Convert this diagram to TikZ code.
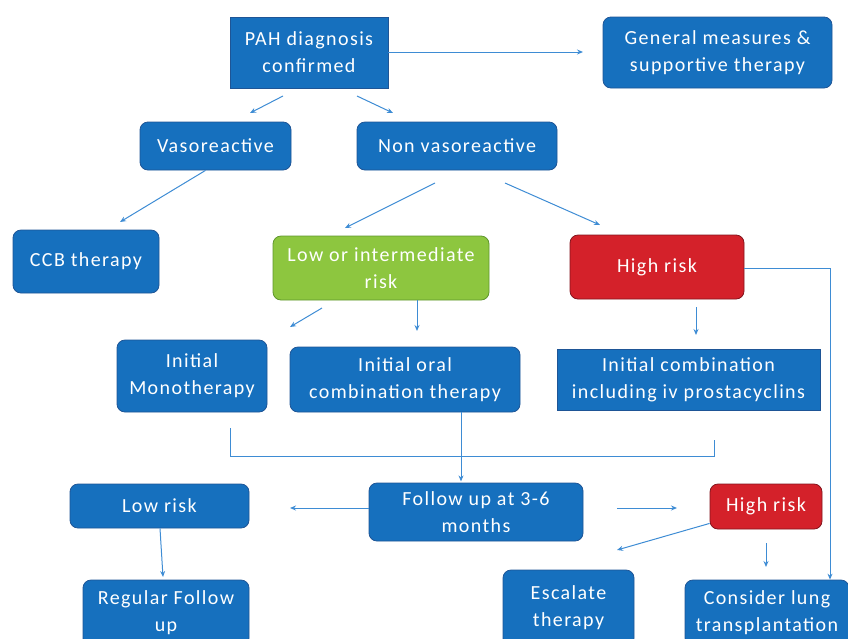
\documentclass[tikz,border=0pt]{standalone}
\usepackage{fontspec}
\setmainfont{Carlito}[LetterSpace=7]
\usepackage{tikz}
\usetikzlibrary{arrows.meta,positioning,calc}
\definecolor{boxblue}{RGB}{22, 112, 190}
\definecolor{edgeblue}{RGB}{30, 85, 150}
\definecolor{lowgreen}{RGB}{141, 198, 63}
\definecolor{edgegreen}{RGB}{95, 150, 45}
\definecolor{highred}{RGB}{212, 33, 42}
\definecolor{edgered}{RGB}{130, 20, 28}
\definecolor{linkblue}{RGB}{62, 140, 212}

\tikzset{
    box/.style={draw=edgeblue, fill=boxblue, text=white, align=center, inner sep=0pt,
        font=\fontsize{20}{27}\selectfont, line width=0.8pt},
    roundbox/.style={box, rounded corners=8pt},
    greenbox/.style={roundbox, fill=lowgreen, draw=edgegreen},
    redbox/.style={roundbox, fill=highred, draw=edgered},
    link/.style={draw=linkblue, line width=1pt, -{Stealth[length=6pt,width=5pt]}},
    plainlink/.style={draw=linkblue, line width=1pt}
}

\begin{document}
\begin{tikzpicture}[x=1pt,y=-1pt]
    \useasboundingbox (0,0) rectangle (848,638);
    % boxes
    \node[box, minimum width=158pt, minimum height=71pt] (pah) at (309,52.5) {PAH diagnosis\\confirmed};
    \node[roundbox, minimum width=229pt, minimum height=71pt] (general) at (717.5,52.5) {General measures \&\\supportive therapy};
    \node[roundbox, minimum width=151pt, minimum height=48pt] (vaso) at (215.5,146) {Vasoreactive};
    \node[roundbox, minimum width=200pt, minimum height=48pt] (nonvaso) at (457,146) {Non vasoreactive};
    \node[roundbox, minimum width=146pt, minimum height=63pt] (ccb) at (86,261.5) {CCB therapy};
    \node[greenbox, minimum width=216pt, minimum height=64pt] (lowint) at (381,268) {Low or intermediate\\risk};
    \node[redbox, minimum width=174pt, minimum height=64pt] (high) at (657,267) {High risk};
    \node[roundbox, minimum width=150pt, minimum height=72pt] (mono) at (192,376) {Initial\\Monotherapy};
    \node[roundbox, minimum width=230pt, minimum height=65pt] (oral) at (405,379.5) {Initial oral\\combination therapy};
    \node[box, minimum width=263pt, minimum height=61pt] (ivcomb) at (688.5,379.5) {Initial combination\\including iv prostacyclins};
    \node[roundbox, minimum width=179pt, minimum height=44pt] (lowrisk) at (159.5,506) {Low risk};
    \node[roundbox, minimum width=214pt, minimum height=58pt] (follow) at (476,512) {Follow up at 3-6\\months};
    \node[redbox, minimum width=112pt, minimum height=45pt] (highfu) at (766,506.5) {High risk};
    \node[roundbox, minimum width=166pt, minimum height=66pt] (regular) at (166,613) {Regular Follow\\up};
    \node[roundbox, minimum width=131pt, minimum height=76pt] (escalate) at (568.5,608) {Escalate\\therapy};
    \node[roundbox, minimum width=164pt, minimum height=66pt] (lung) at (767,613) {Consider lung\\transplantation};

    % loose arrow ends
    \coordinate (pahR) at (583,52);
    \coordinate (pahA) at (283,96);  \coordinate (vasoT) at (250,113);
    \coordinate (pahB) at (357,96);  \coordinate (nonT) at (393,113);
    \coordinate (ccbT) at (120,222);
    \coordinate (nonA) at (435,183); \coordinate (lowT) at (345,228);
    \coordinate (nonB) at (505,183); \coordinate (highT) at (600,225);
    \coordinate (lowA) at (322,308); \coordinate (monoT) at (290,327);
    \coordinate (oralT) at (417,331);
    \coordinate (ivT) at (696,335);
    \coordinate (followL) at (290,508);
    \coordinate (followR) at (617,508); \coordinate (highfuL) at (677,508);
    \coordinate (escT) at (617,550);
    \coordinate (lungT) at (766,567);
    \coordinate (bend) at (830,268);
    \coordinate (braceL) at (230,428); \coordinate (braceR) at (714,440);
    \coordinate (braceY) at (0,456);

    % connectors
    \draw[link] (pah.east |- pahR) -- (pahR);
    \draw[link] (pahA) -- (vasoT);
    \draw[link] (pahB) -- (nonT);
    \draw[link] (vaso.south) ++(-10,0) -- (ccbT);
    \draw[link] (nonA) -- (lowT);
    \draw[link] (nonB) -- (highT);
    \draw[link] (lowA) -- (monoT);
    \draw[link] (lowint.south -| oralT) -- (oralT);
    \draw[link] (high.south -| ivT) ++(0,8) -- (ivT);
    \draw[plainlink] (braceL) -- (braceL |- braceY) -- (braceR |- braceY) -- (braceR);
    \draw[link] (oral.south -| follow.north) ++(-15,0) -- ++(0,69);
    \draw[link] (follow.west |- followL) -- (followL);
    \draw[link] (followR) -- (highfuL);
    \draw[link] (highfu.south west) ++(0,-6) -- (escT);
    \draw[link] (highfu.south) ++(0,14) -- (lungT);
    \draw[link] (high.east |- bend) -- (bend) -- (bend |- lung.north);
    \draw[link] (lowrisk.south) ++(0.5,0) -- (163,577);
\end{tikzpicture}
\end{document}
